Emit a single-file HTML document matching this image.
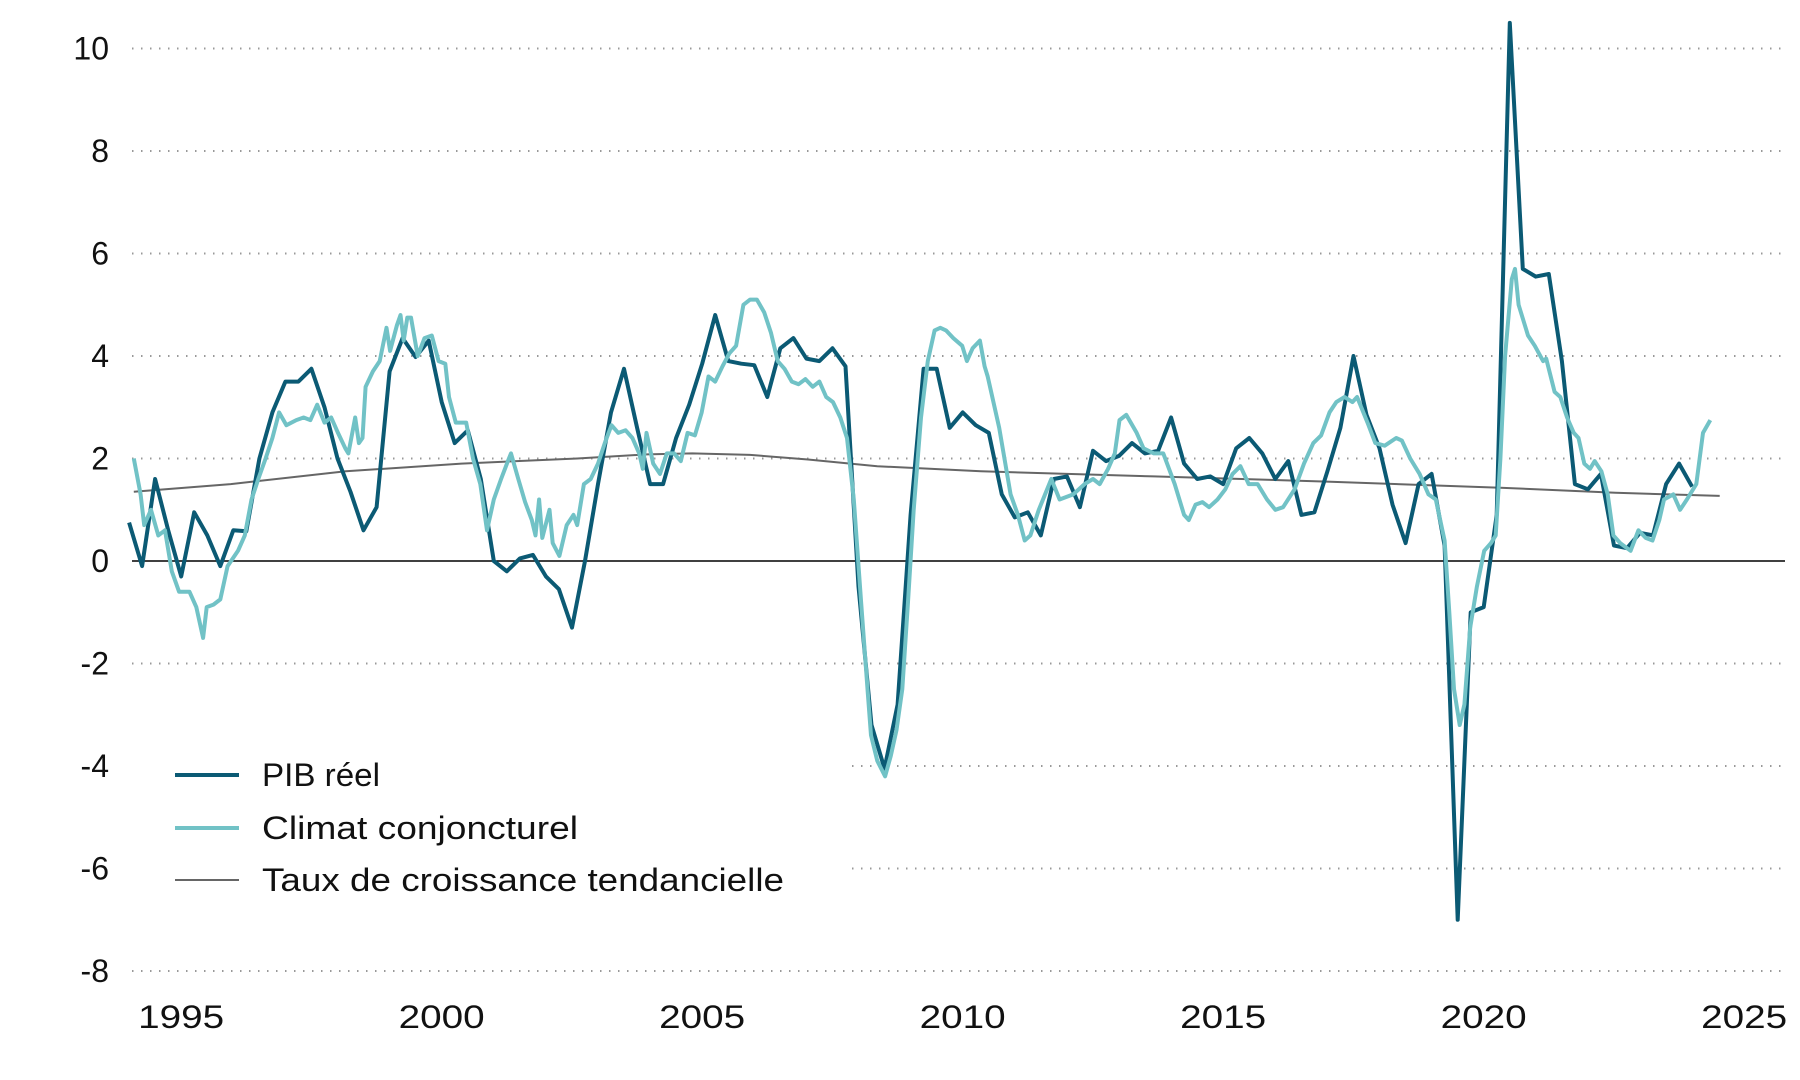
<!DOCTYPE html>
<html><head><meta charset="utf-8"><style>
html,body{margin:0;padding:0;background:#fff;}
svg{display:block;font-family:"Liberation Sans",sans-serif;}
</style></head><body>
<svg id="chart" width="1800" height="1080" viewBox="0 0 1800 1080" xmlns="http://www.w3.org/2000/svg">
<rect width="1800" height="1080" fill="#fff"/>
<g id="grid"></g>
<g id="yaxis"></g>
<g id="xaxis"></g>
<g id="series"></g>
<g id="legend"></g>
</svg>
<script>
const yTicks = [10, 8, 6, 4, 2, 0, -2, -4, -6, -8];
const yTickLabels = ["10", "8", "6", "4", "2", "0", "-2", "-4", "-6", "-8"];
const xTicks = [1995, 2000, 2005, 2010, 2015, 2020, 2025];
const xTickLabels = ["1995", "2000", "2005", "2010", "2015", "2020", "2025"];
const pibStartYear = 1994.0;
const pibValues = [0.75,-0.1,1.6,0.6,-0.3,0.95,0.5,-0.1,0.6,0.58,2.0,2.9,3.5,3.5,3.75,3.0,2.0,1.35,0.6,1.05,3.7,4.35,3.98,4.3,3.1,2.3,2.55,1.6,0.0,-0.2,0.05,0.12,-0.3,-0.55,-1.3,0.0,1.5,2.9,3.75,2.6,1.5,1.5,2.4,3.05,3.85,4.8,3.9,3.85,3.82,3.2,4.15,4.35,3.95,3.9,4.15,3.8,-0.5,-3.2,-4.05,-2.8,0.9,3.75,3.75,2.6,2.9,2.65,2.5,1.3,0.85,0.95,0.5,1.6,1.65,1.05,2.15,1.95,2.05,2.3,2.1,2.15,2.8,1.9,1.6,1.65,1.5,2.2,2.4,2.1,1.6,1.95,0.9,0.95,1.75,2.6,4.0,2.85,2.2,1.1,0.35,1.5,1.7,0.3,-7.0,-1.0,-0.9,0.9,10.5,5.7,5.55,5.6,3.9,1.5,1.4,1.7,0.3,0.25,0.55,0.5,1.5,1.9,1.45];
const climatDates = [1994.09,1994.22,1994.29,1994.42,1994.56,1994.69,1994.82,1994.96,1995.16,1995.29,1995.42,1995.49,1995.62,1995.75,1995.89,1996.09,1996.22,1996.35,1996.48,1996.62,1996.75,1996.88,1997.02,1997.21,1997.35,1997.48,1997.61,1997.75,1997.88,1998.01,1998.15,1998.21,1998.34,1998.41,1998.48,1998.54,1998.68,1998.81,1998.94,1999.01,1999.14,1999.21,1999.27,1999.34,1999.41,1999.54,1999.67,1999.81,1999.94,2000.07,2000.14,2000.27,2000.40,2000.47,2000.60,2000.74,2000.87,2001.00,2001.14,2001.27,2001.33,2001.47,2001.60,2001.73,2001.80,2001.87,2001.93,2002.07,2002.13,2002.26,2002.40,2002.53,2002.60,2002.73,2002.86,2003.00,2003.13,2003.26,2003.39,2003.53,2003.66,2003.79,2003.86,2003.93,2004.06,2004.19,2004.32,2004.46,2004.59,2004.72,2004.86,2004.99,2005.12,2005.25,2005.39,2005.52,2005.65,2005.79,2005.92,2006.05,2006.19,2006.32,2006.45,2006.58,2006.72,2006.85,2006.98,2007.12,2007.25,2007.38,2007.51,2007.65,2007.78,2007.91,2008.05,2008.18,2008.24,2008.36,2008.51,2008.62,2008.73,2008.84,2008.95,2009.06,2009.20,2009.33,2009.46,2009.57,2009.68,2009.82,2009.99,2010.08,2010.19,2010.33,2010.42,2010.48,2010.70,2010.92,2011.06,2011.19,2011.30,2011.46,2011.70,2011.86,2012.12,2012.34,2012.50,2012.63,2012.79,2012.92,2013.01,2013.14,2013.34,2013.47,2013.67,2013.85,2014.07,2014.25,2014.34,2014.47,2014.60,2014.73,2014.89,2015.04,2015.18,2015.33,2015.49,2015.66,2015.84,2016.00,2016.15,2016.37,2016.55,2016.73,2016.88,2017.04,2017.17,2017.33,2017.48,2017.57,2017.77,2017.92,2018.10,2018.32,2018.43,2018.59,2018.77,2018.94,2019.08,2019.25,2019.34,2019.43,2019.54,2019.63,2019.74,2019.87,2020.01,2020.14,2020.23,2020.32,2020.41,2020.54,2020.60,2020.67,2020.85,2020.98,2021.14,2021.20,2021.36,2021.47,2021.60,2021.73,2021.82,2021.93,2022.04,2022.13,2022.26,2022.38,2022.49,2022.62,2022.82,2022.97,2023.11,2023.24,2023.37,2023.46,2023.64,2023.77,2023.90,2024.08,2024.21,2024.35];
const climatValues = [2.0,1.3,0.7,1.0,0.5,0.6,-0.2,-0.6,-0.6,-0.9,-1.5,-0.9,-0.85,-0.75,-0.1,0.2,0.5,1.2,1.6,2.0,2.4,2.9,2.65,2.75,2.8,2.75,3.05,2.7,2.8,2.5,2.2,2.1,2.8,2.3,2.4,3.4,3.7,3.9,4.55,4.1,4.6,4.8,4.3,4.75,4.75,4.0,4.35,4.4,3.9,3.85,3.2,2.7,2.7,2.7,2.0,1.5,0.6,1.2,1.6,1.95,2.1,1.6,1.15,0.8,0.5,1.2,0.45,1.0,0.35,0.1,0.7,0.9,0.7,1.5,1.6,1.9,2.3,2.65,2.5,2.55,2.4,2.1,1.8,2.5,1.9,1.7,2.1,2.1,1.95,2.5,2.45,2.9,3.6,3.5,3.8,4.05,4.2,5.0,5.1,5.1,4.85,4.45,3.9,3.75,3.5,3.45,3.55,3.4,3.5,3.2,3.1,2.8,2.4,1.2,-0.8,-2.6,-3.4,-3.9,-4.2,-3.8,-3.3,-2.5,-0.8,1.0,2.8,3.9,4.5,4.55,4.5,4.35,4.2,3.9,4.15,4.3,3.8,3.6,2.6,1.3,0.9,0.4,0.5,1.0,1.6,1.2,1.3,1.5,1.6,1.5,1.8,2.1,2.75,2.85,2.5,2.2,2.1,2.1,1.5,0.9,0.8,1.1,1.15,1.05,1.2,1.4,1.7,1.85,1.5,1.5,1.2,1.0,1.05,1.4,1.9,2.3,2.45,2.9,3.1,3.2,3.1,3.2,2.7,2.3,2.25,2.4,2.35,2.0,1.7,1.3,1.2,0.4,-1.0,-2.5,-3.2,-2.8,-1.3,-0.5,0.2,0.35,0.5,2.0,4.0,5.5,5.7,5.0,4.4,4.2,3.9,3.95,3.3,3.2,2.8,2.5,2.4,1.9,1.8,1.95,1.75,1.3,0.5,0.35,0.2,0.6,0.45,0.4,0.8,1.2,1.3,1.0,1.2,1.5,2.5,2.75];
const trendDates = [1994.09,1995.95,1998.16,2000.38,2002.6,2003.93,2004.81,2005.92,2007.03,2008.36,2010.35,2013.67,2016.99,2020.32,2022.53,2024.53];
const trendValues = [1.35,1.5,1.75,1.9,2.0,2.08,2.1,2.07,1.98,1.85,1.75,1.65,1.55,1.43,1.33,1.27];

const NS = "http://www.w3.org/2000/svg";
const X0 = 132, X1 = 1785;
function xScale(t){ return 181.2 + (t - 1995) * 52.1; }
function yScale(v){ return 561 - v * 51.25; }
function mk(tag, attrs, parent){ const e = document.createElementNS(NS, tag); for (const k in attrs) e.setAttribute(k, attrs[k]); parent.appendChild(e); return e; }

const grid = document.getElementById('grid');
const yax = document.getElementById('yaxis');
yTicks.forEach((v, i) => {
  const y = yScale(v);
  if (v === 0) {
    const l = mk('line', {x1: X0, x2: X1, y1: y, y2: y, stroke: '#000', 'stroke-width': 1.6}, grid);
    
    
  } else {
    const l = mk('line', {x1: X0, x2: X1, y1: y, y2: y, stroke: '#999', 'stroke-width': 2, 'stroke-dasharray': '1.5 7.5'}, grid);
    
    
  }
  const t = mk('text', {x: 109, y: y + 11, 'text-anchor': 'end', 'font-size': 32, fill: '#111'}, yax);
  t.textContent = yTickLabels[i];
  
  
});
const xax = document.getElementById('xaxis');
xTicks.forEach((yr, i) => {
  const t = mk('text', {x: xScale(yr), y: 1028, 'text-anchor': 'middle', 'font-size': 32, fill: '#111', textLength: 86, lengthAdjust: 'spacingAndGlyphs'}, xax);
  t.textContent = xTickLabels[i];
  
  
});

const series = document.getElementById('series');
function path(dates, vals){ return dates.map((d, i) => (i ? 'L' : 'M') + xScale(d).toFixed(1) + ',' + yScale(vals[i]).toFixed(1)).join(''); }
const pibDates = pibValues.map((v, i) => pibStartYear + 0.25 * i);
const pTrend = mk('path', {d: path(trendDates, trendValues), fill: 'none', stroke: '#666', 'stroke-width': 2}, series);


const pPib = mk('path', {d: path(pibDates, pibValues), fill: 'none', stroke: '#0b5a74', 'stroke-width': 4, 'stroke-linejoin': 'round'}, series);


const pClim = mk('path', {d: path(climatDates, climatValues), fill: 'none', stroke: '#71c2c6', 'stroke-width': 4, 'stroke-linejoin': 'round'}, series);



const legend = document.getElementById('legend');
const bg = mk('rect', {x: 125, y: 735, width: 725, height: 175, fill: '#fff'}, legend);


const legItems = [["PIB réel", '#0b5a74', 4, 775, 118], ["Climat conjoncturel", '#71c2c6', 4, 828, 316], ["Taux de croissance tendancielle", '#666', 2, 880, 522]];
legItems.forEach(it => {
  const l = mk('line', {x1: 175, x2: 239, y1: it[3], y2: it[3], stroke: it[1], 'stroke-width': it[2]}, legend);
  
  
  const t = mk('text', {x: 262, y: it[3] + 11, 'font-size': 32, fill: '#111', textLength: it[4], lengthAdjust: 'spacingAndGlyphs'}, legend);
  t.textContent = it[0];
  
  
});
</script>
</body></html>
